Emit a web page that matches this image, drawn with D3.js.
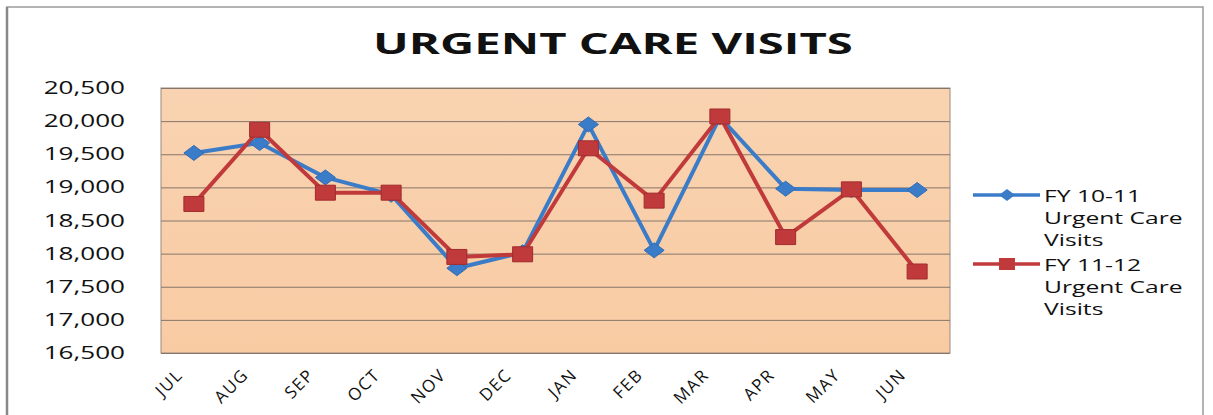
<!DOCTYPE html>
<html>
<head>
<meta charset="utf-8">
<title>Urgent Care Visits</title>
<script src="https://cdn.jsdelivr.net/npm/d3@7"></script>
<style>
	body { margin: 0; background: #fff; }
	text { font-family: "Open Sans", sans-serif; fill: #111; }
</style>
</head>
<body>
<div id="chart"></div>
<script>
// data
var months = ["JUL","AUG","SEP","OCT","NOV","DEC","JAN","FEB","MAR","APR","MAY","JUN"];
var fy1011 = [19520,19670,19150,18890,17780,18020,19950,18050,20060,18980,18960,18960];
var fy1112 = [18750,19870,18920,18920,17950,17990,19590,18800,20070,18250,18970,17730];
var yTicks = [16500,17000,17500,18000,18500,19000,19500,20000,20500];
var seriesNames = ["FY 10-11 Urgent Care Visits","FY 11-12 Urgent Care Visits"];
var legendLines = [["FY 10-11","Urgent Care","Visits"],["FY 11-12","Urgent Care","Visits"]];

var width = 1213, height = 415;
var sx = 1.45; // the picture is stretched sideways, so is the text
var plot = {left: 161, top: 88, right: 950, bottom: 353};

var svg = d3.select("#chart").append("svg")
	.attr("width", width)
	.attr("height", height);

// outer frame
svg.append("rect")
	.attr("x", 7).attr("y", 7)
	.attr("width", 1196).attr("height", 430)
	.attr("fill", "none")
	.attr("stroke", "#9a9a9a")
	.attr("stroke-width", 1.5);
svg.append("line")
	.attr("x1", 7).attr("x2", 7).attr("y1", 7).attr("y2", height)
	.attr("stroke", "#888").attr("stroke-width", 2.5);

// title
svg.append("g")
	.attr("transform", "translate(613,54) scale(1.63,1)")
	.append("text")
	.attr("text-anchor", "middle")
	.style("font-weight", "bold")
	.style("font-size", "29px")
	.text("URGENT CARE VISITS");

var x = d3.scaleBand()
	.domain(months)
	.range([plot.left, plot.right]);
var y = d3.scaleLinear()
	.domain([16500, 20500])
	.range([plot.bottom, plot.top]);

// plot background
var grad = svg.append("defs").append("linearGradient")
	.attr("id", "bg").attr("x1", 0).attr("y1", 0).attr("x2", 0).attr("y2", 1);
grad.append("stop").attr("offset", "0%").attr("stop-color", "#f9d3b1");
grad.append("stop").attr("offset", "100%").attr("stop-color", "#f8cba3");

svg.append("rect")
	.attr("x", plot.left).attr("y", plot.top)
	.attr("width", plot.right - plot.left)
	.attr("height", plot.bottom - plot.top)
	.attr("fill", "url(#bg)")
	.attr("stroke", "#9c8a7e");

// gridlines
svg.append("g")
	.attr("transform", "translate(" + plot.left + ",0)")
	.call(d3.axisLeft(y).tickValues(yTicks).tickSize(-(plot.right - plot.left)).tickFormat(""))
	.call(function(g) {
		g.select(".domain").remove();
		g.selectAll(".tick line").attr("stroke", "#86766c").attr("stroke-width", 1);
	});

// y labels
svg.append("g").selectAll("g")
	.data(yTicks)
	.enter().append("g")
	.attr("transform", function(d) { return "translate(125," + (y(d) + 6) + ") scale(" + sx + ",1)"; })
	.append("text")
	.attr("text-anchor", "end")
	.style("font-size", "18px")
	.text(d3.format(","));

// x labels
svg.append("g").selectAll("text")
	.data(months)
	.enter().append("text")
	.attr("transform", function(d) { return "translate(" + (x(d) + x.bandwidth() / 2 - 10) + ",376) rotate(-45)"; })
	.attr("text-anchor", "end")
	.style("font-size", "17px")
	.style("letter-spacing", "1.5px")
	.text(function(d) { return d; });

var colors = ["#3b7cc8", "#c03a3c"];
var strokes = ["#2f6cb5", "#a02c2e"];
var line = d3.line()
	.x(function(d, i) { return x(months[i]) + x.bandwidth() / 2; })
	.y(function(d) { return y(d); });

var diamond = "M0,-7.5L10,0L0,7.5L-10,0Z";
var square = "M-10,-7.5H10V7.5H-10Z";
var shapes = [diamond, square];

[fy1011, fy1112].forEach(function(series, s) {
	svg.append("path")
		.datum(series)
		.attr("d", line)
		.attr("fill", "none")
		.attr("stroke", colors[s])
		.attr("stroke-width", 4)
		.attr("stroke-linejoin", "round");
});

[fy1011, fy1112].forEach(function(series, s) {
	svg.append("g").selectAll("path")
		.data(series)
		.enter().append("path")
		.attr("transform", function(d, i) { return "translate(" + (x(months[i]) + x.bandwidth() / 2) + "," + y(d) + ")"; })
		.attr("d", shapes[s])
		.attr("fill", colors[s])
		.attr("stroke", strokes[s])
		.attr("stroke-width", 1);
});

// legend
var legend = svg.append("g").selectAll("g")
	.data(seriesNames)
	.enter().append("g")
	.attr("transform", function(d, i) { return "translate(973," + (195 + i * 69) + ")"; });

legend.append("line")
	.attr("x1", 0).attr("x2", 67)
	.attr("stroke", function(d, i) { return colors[i]; })
	.attr("stroke-width", 3.5);
legend.append("path")
	.attr("transform", "translate(34,0) scale(0.8)")
	.attr("d", function(d, i) { return shapes[i]; })
	.attr("fill", function(d, i) { return colors[i]; });

legend.each(function(d, i) {
	d3.select(this).selectAll("g.lbl")
		.data(legendLines[i])
		.enter().append("g")
		.attr("class", "lbl")
		.attr("transform", function(t, j) { return "translate(71," + (7 + j * 22) + ") scale(" + sx + ",1)"; })
		.append("text")
		.style("font-size", "17px")
		.text(function(t) { return t; });
});
</script>
</body>
</html>
